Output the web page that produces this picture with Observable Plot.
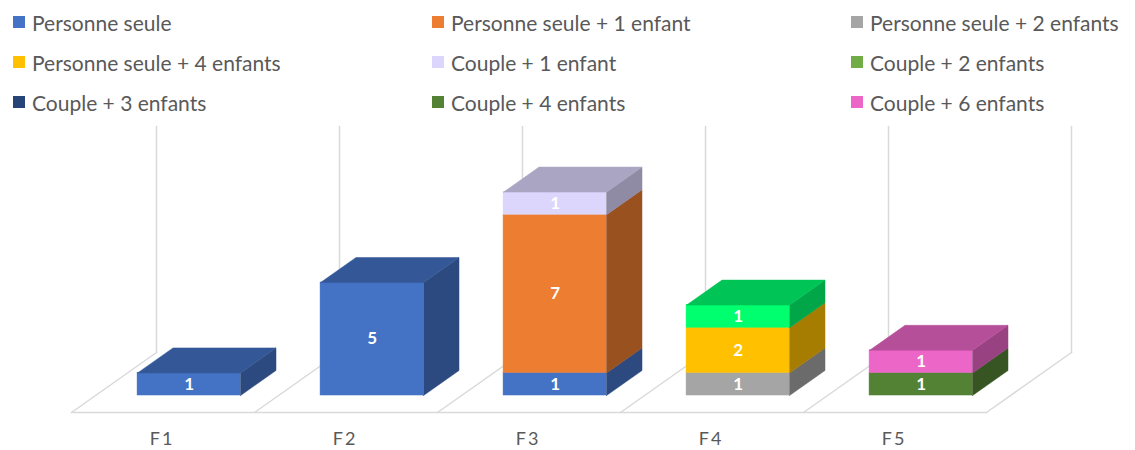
<!DOCTYPE html>
<html>
<head>
<meta charset="utf-8">
<script src="https://cdn.jsdelivr.net/npm/d3@7"></script>
<script src="https://cdn.jsdelivr.net/npm/@observablehq/plot@0.6"></script>
<style>
  html, body { margin: 0; padding: 0; background: #fff; }
  body { width: 1135px; height: 450px; overflow: hidden; font-family: Lato, "Open Sans", sans-serif; }
  #legend { height: 120px; box-sizing: border-box; padding: 2px 0 0 13px; display: grid;
    grid-template-columns: 419px 419px 290px; grid-auto-rows: 40px; }
  .item { display: flex; align-items: center; color: #595959; font-size: 21px; white-space: nowrap; }
  .sw { width: 12px; height: 12px; margin-right: 7px; flex: none; }
  #chart svg { display: block; }
</style>
</head>
<body>
<div id="legend"></div>
<div id="chart"></div>
<script>
const categories = ["F1", "F2", "F3", "F4", "F5"];
const seriesNames = [
  "Personne seule", "Personne seule + 1 enfant", "Personne seule + 2 enfants",
  "Personne seule + 4 enfants", "Couple + 1 enfant", "Couple + 2 enfants",
  "Couple + 3 enfants", "Couple + 4 enfants", "Couple + 6 enfants"
];
const personneSeule   = [1, 5, 1, 0, 0];
const personneSeule1  = [0, 0, 7, 0, 0];
const personneSeule2  = [0, 0, 0, 1, 0];
const personneSeule4  = [0, 0, 0, 2, 0];
const couple1         = [0, 0, 1, 0, 0];
const couple2         = [0, 0, 0, 1, 0];
const couple3         = [0, 0, 0, 0, 0];
const couple4         = [0, 0, 0, 0, 1];
const couple6         = [0, 0, 0, 0, 1];
const seriesValues = [personneSeule, personneSeule1, personneSeule2, personneSeule4,
  couple1, couple2, couple3, couple4, couple6];
const legendColors = ["#4472C4", "#ED7D31", "#A5A5A5", "#FFC000", "#DCD6FC", "#70AD47", "#264478", "#548235", "#EC66C8"];
const barColors    = ["#4472C4", "#ED7D31", "#A5A5A5", "#FFC000", "#DCD6FC", "#00FF6E", "#264478", "#548235", "#EC66C8"];
const yMax = 10;

// legend
const legend = document.getElementById("legend");
seriesNames.forEach((name, i) => {
  const it = document.createElement("div");
  it.className = "item";
  it.innerHTML = `<span class="sw" style="background:${legendColors[i]}"></span><span>${name}</span>`;
  legend.appendChild(it);
});

// 3D projection helpers (depth t in [0,1])
const KX = 85 / 183, KY = 60 / 22.6;
const GAP = 0.2186, SHIFT = 0.011, T0 = 0.283, T1 = 0.70;
const proj = (u, v, t) => ({x: u + KX * t, y: v + KY * t});
const shade = (c, f) => { const r = d3.rgb(c); return d3.rgb(r.r * f, r.g * f, r.b * f).formatHex(); };

// stacked segments
const segs = [];
categories.forEach((cat, ci) => {
  let cum = 0;
  seriesValues.forEach((vals, si) => {
    const v = vals[ci];
    if (v > 0) { segs.push({ci, si, v0: cum, v1: cum + v, value: v, color: barColors[si]}); cum += v; }
  });
});
const tops = categories.map((c, ci) => segs.filter(s => s.ci === ci).pop()).filter(Boolean);

const fronts = segs.map(s => {
  const u0 = s.ci + GAP + SHIFT, u1 = s.ci + 1 - GAP + SHIFT;
  const a = proj(u0, s.v0, T0), b = proj(u1, s.v1, T0);
  return {x1: a.x, x2: b.x, y1: a.y, y2: b.y, color: s.color,
    lx: (a.x + b.x) / 2, ly: (a.y + b.y) / 2, label: String(s.value)};
});
const polys = [];
segs.forEach((s, k) => {
  const u1 = s.ci + 1 - GAP + SHIFT;
  const pts = [proj(u1, s.v0, T0), proj(u1, s.v0, T1), proj(u1, s.v1, T1), proj(u1, s.v1, T0), proj(u1, s.v0, T0)];
  pts.forEach(p => polys.push({id: "side" + k, x: p.x, y: p.y, color: shade(s.color, 0.65)}));
});
tops.forEach((s, k) => {
  const u0 = s.ci + GAP + SHIFT, u1 = s.ci + 1 - GAP + SHIFT;
  const pts = [proj(u0, s.v1, T0), proj(u1, s.v1, T0), proj(u1, s.v1, T1), proj(u0, s.v1, T1), proj(u0, s.v1, T0)];
  pts.forEach(p => polys.push({id: "top" + k, x: p.x, y: p.y, color: shade(s.color, 0.77)}));
});

// grid: floor and back-wall verticals
const grid = [];
const n = categories.length;
[proj(0, 0, 0), proj(n, 0, 0)].forEach(p => grid.push({id: "front", ...p}));
for (let i = 0; i <= n; i++) {
  [proj(i, 0, 0), proj(i, 0, 1)].forEach(p => grid.push({id: "d" + i, ...p}));
  [proj(i, 0, 1), proj(i, yMax, 1)].forEach(p => grid.push({id: "v" + i, ...p}));
}
const catLabels = categories.map((c, i) => ({x: i + 0.495, y: -1.2, label: c}));

const chart = Plot.plot({
  width: 1135, height: 330,
  marginLeft: 0, marginRight: 0, marginTop: 0, marginBottom: 0,
  style: {fontFamily: "Lato, 'Open Sans', sans-serif", background: "#fff", overflow: "visible"},
  x: {domain: [0, 5], range: [71, 986], axis: null},
  y: {domain: [0, yMax], range: [292, 66], axis: null},
  color: {type: "identity"},
  marks: [
    Plot.line(grid, {x: "x", y: "y", z: "id", stroke: "#D9D9D9", strokeWidth: 1.5}),
    Plot.rect(fronts, {x1: "x1", x2: "x2", y1: "y1", y2: "y2", fill: "color", stroke: "color", strokeWidth: 0.5}),
    Plot.line(polys, {x: "x", y: "y", z: "id", fill: "color", stroke: "color", strokeWidth: 0.5}),
    Plot.text(fronts, {x: "lx", y: "ly", text: "label", fill: "white", fontWeight: "bold", fontSize: 17}),
    Plot.text(catLabels, {x: "x", y: "y", text: "label", fill: "#595959", fontSize: 18})
  ]
});
const textGroups = chart.querySelectorAll('g[aria-label="text"]');
if (textGroups.length > 1) textGroups[textGroups.length - 1].style.letterSpacing = "2px";
document.getElementById("chart").appendChild(chart);
</script>
</body>
</html>
